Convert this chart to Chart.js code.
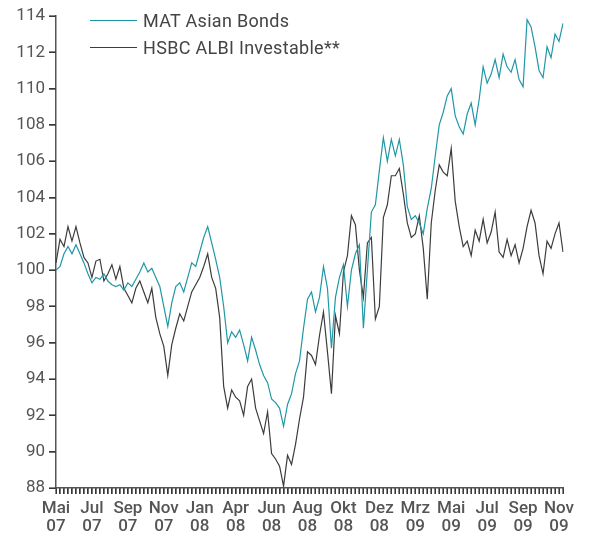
<!DOCTYPE html>
<html>
<head>
<meta charset="utf-8">
<script src="https://cdn.jsdelivr.net/npm/chart.js@4/dist/chart.umd.min.js"></script>
<style>
  html, body { margin: 0; padding: 0; background: #fff; }
  .wrap { position: relative; width: 589px; height: 539px; }
  .legend { position: absolute; left: 90px; top: 7px; font-family: Roboto, sans-serif; font-size: 18px; letter-spacing: 0.3px; color: #444; }
  .legend div { height: 27px; display: flex; align-items: center; }
  .legend span.swatch { display: inline-block; width: 47px; height: 0; border-top: 1.2px solid; margin-right: 6px; }
</style>
</head>
<body>
<div class="wrap">
  <canvas id="myChart" width="589" height="539"></canvas>
  <div class="legend">
    <div><span class="swatch" style="border-color:#1f97a6"></span>MAT Asian Bonds</div>
    <div><span class="swatch" style="border-color:#3c3c3c"></span>HSBC ALBI Investable**</div>
  </div>
</div>
<script>
// month labels shown every 9 weeks
const monthLabels = [
  ["Mai", "07"], ["Jul", "07"], ["Sep", "07"], ["Nov", "07"], ["Jan", "08"],
  ["Apr", "08"], ["Jun", "08"], ["Aug", "08"], ["Okt", "08"], ["Dez", "08"],
  ["Mrz", "09"], ["Mai", "09"], ["Jul", "09"], ["Sep", "09"], ["Nov", "09"]
];
const labelStep = 9;

// weekly index values
const matAsianBonds = [
  100.0, 100.2, 100.9, 101.3, 100.9, 101.4, 100.9, 100.4, 99.8, 99.3,
  99.6, 99.5, 99.8, 99.4, 99.2, 99.1, 99.2, 98.9, 99.3, 99.1,
  99.5, 99.9, 100.4, 99.9, 100.1, 99.6, 99.1, 98.0, 96.9, 98.2,
  99.1, 99.3, 98.8, 99.6, 100.4, 100.2, 101.0, 101.8, 102.4, 101.5,
  100.6, 99.6, 98.0, 96.0, 96.6, 96.3, 96.7, 95.9, 95.0, 96.3,
  95.6, 94.8, 94.2, 93.8, 92.9, 92.7, 92.4, 91.4, 92.6, 93.2,
  94.3, 95.0, 96.8, 98.4, 98.8, 97.7, 98.5, 100.2, 99.0, 95.7,
  98.5, 99.6, 100.3, 98.0, 100.0, 100.9, 101.4, 96.8, 100.0, 103.2,
  103.6, 105.5, 107.3, 106.0, 107.2, 106.3, 107.2, 105.8, 103.5, 102.8,
  103.0, 102.6, 102.0, 103.4, 104.5, 106.3, 108.0, 108.7, 109.6, 110.0,
  108.5, 107.9, 107.5, 108.6, 109.2, 108.0, 109.4, 111.2, 110.3, 110.8,
  111.6, 110.6, 111.9, 111.2, 110.9, 111.6, 110.5, 110.1, 113.8, 113.4,
  112.3, 111.0, 110.6, 112.3, 111.7, 113.0, 112.6, 113.6
];
const hsbcAlbi = [
  100.4, 101.7, 101.3, 102.4, 101.6, 102.4, 101.5, 100.7, 100.4, 99.6,
  100.5, 100.6, 99.4, 99.8, 100.3, 99.5, 100.2, 99.0, 98.6, 98.2,
  99.0, 99.4, 98.8, 98.2, 99.0, 97.4, 96.5, 95.8, 94.2, 95.9,
  96.8, 97.6, 97.2, 98.0, 98.8, 99.2, 99.6, 100.2, 100.9, 99.6,
  99.0, 97.4, 93.6, 92.4, 93.4, 93.0, 92.8, 92.0, 93.6, 94.0,
  92.4, 91.7, 91.0, 92.2, 89.9, 89.6, 89.2, 88.1, 89.8, 89.3,
  90.4, 91.8, 93.0, 95.5, 95.3, 94.8, 96.4, 97.7, 95.5, 93.2,
  97.5, 96.5, 99.9, 100.8, 103.0, 102.5, 100.0, 98.5, 101.5, 101.8,
  97.3, 98.0, 102.9, 103.6, 105.2, 105.2, 105.6, 104.2, 102.6, 101.8,
  102.0, 103.0, 101.2, 98.4, 102.6, 104.4, 105.8, 105.4, 105.2, 106.7,
  103.8, 102.4, 101.3, 101.6, 100.8, 102.2, 101.6, 102.8, 101.5, 102.1,
  103.2, 101.0, 100.7, 101.7, 100.8, 101.4, 100.4, 101.2, 102.4, 103.3,
  102.6, 100.8, 99.8, 101.6, 101.2, 102.0, 102.6, 101.0
];

const labels = matAsianBonds.map((v, i) =>
  i % labelStep === 0 && monthLabels[i / labelStep] ? monthLabels[i / labelStep] : ""
);

const axisColor = "#555";

// small outside tick marks on both axes, drawn as thin filled rectangles
const tickMarks = {
  id: "tickMarks",
  afterDraw(chart) {
    const ctx = chart.ctx;
    const area = chart.chartArea;
    const x = chart.scales.x;
    const y = chart.scales.y;
    ctx.save();
    ctx.fillStyle = "#3a3a3a";
    for (let i = 0; i < labels.length; i++) {
      const px = Math.round(x.getPixelForValue(i));
      ctx.fillRect(px - 0.6, area.bottom, 1.3, 6);
    }
    for (let v = 88; v <= 114; v += 2) {
      const py = Math.round(y.getPixelForValue(v));
      ctx.fillRect(area.left - 7, py - 0.6, 7, 1.3);
    }
    ctx.restore();
  },
};

const config = {
  type: "line",
  data: {
    labels: labels,
    datasets: [
      {
        label: "MAT Asian Bonds",
        data: matAsianBonds,
        borderColor: "#1f97a6",
        borderWidth: 1.2,
        pointRadius: 0,
        tension: 0,
      },
      {
        label: "HSBC ALBI Investable**",
        data: hsbcAlbi,
        borderColor: "#3c3c3c",
        borderWidth: 1.2,
        pointRadius: 0,
        tension: 0,
      },
    ],
  },
  options: {
    responsive: false,
    animation: false,
    layout: { padding: { top: 16, right: 26, left: 0, bottom: 0 } },
    plugins: { legend: { display: false }, tooltip: { enabled: false } },
    scales: {
      x: {
        type: "category",
        offset: false,
        grid: { drawOnChartArea: false, tickLength: 6, color: "#333" },
        border: { color: axisColor, width: 1.5 },
        ticks: {
          autoSkip: false,
          maxRotation: 0,
          minRotation: 0,
          padding: 5,
          color: axisColor,
          font: { family: "Roboto", size: 17, weight: "500", lineHeight: 1.1 },
        },
        afterFit: (axis) => { axis.height = 51; },
      },
      y: {
        min: 88,
        max: 114,
        ticks: {
          stepSize: 2,
          padding: 4,
          color: axisColor,
          font: { family: "Roboto", size: 17 },
        },
        grid: { drawOnChartArea: false, tickLength: 7, color: "#333" },
        border: { color: axisColor, width: 1.5 },
        afterFit: (axis) => { axis.width = 56; },
      },
    },
  },
  plugins: [tickMarks],
};

new Chart(document.getElementById("myChart"), config);
</script>
</body>
</html>
